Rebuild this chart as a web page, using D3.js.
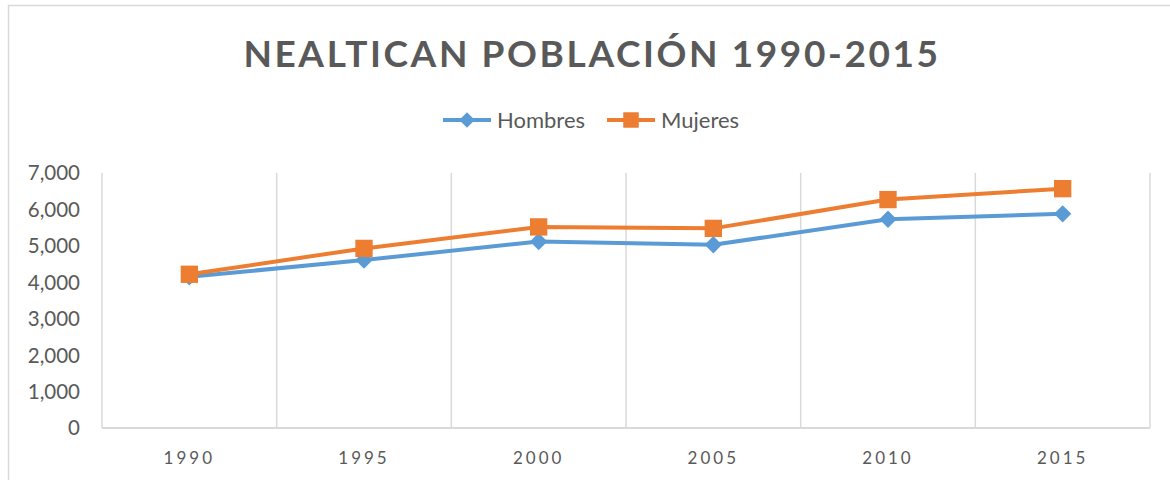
<!DOCTYPE html>
<html>
<head>
<meta charset="utf-8">
<script src="https://cdn.jsdelivr.net/npm/d3@7"></script>
<style>
    body { margin: 0; background: #fff; }
    svg { display: block; font-family: Lato, "Open Sans", sans-serif; }
</style>
</head>
<body>
<div id="chart"></div>
<script>
const years = ["1990", "1995", "2000", "2005", "2010", "2015"];
const hombres = [4150, 4610, 5120, 5030, 5730, 5880];
const mujeres = [4220, 4930, 5520, 5480, 6270, 6570];
const yTicks = [0, 1000, 2000, 3000, 4000, 5000, 6000, 7000];

// diamond = square turned 45deg, like the spreadsheet marker
const seriesList = [
    { name: "Hombres", values: hombres, color: "#5B9BD5", shape: d3.symbolSquare, size: 150, rotate: 45 },
    { name: "Mujeres", values: mujeres, color: "#ED7D31", shape: d3.symbolSquare, size: 300, rotate: 0 }
];

function renderChart() {
    const width = 1170, height = 480;
    const margin = { left: 102, right: 20, top: 173, bottom: 52 };

    const svg = d3.select("#chart")
        .append("svg")
        .attr("width", width)
        .attr("height", height);

    // chart frame
    svg.append("rect")
        .attr("x", 8.5).attr("y", 5.5)
        .attr("width", width + 20).attr("height", height + 20)
        .attr("fill", "none")
        .attr("stroke", "#d9d9d9")
        .attr("stroke-width", 1.5);

    const x = d3.scaleBand()
        .domain(years)
        .range([margin.left, width - margin.right]);

    const y = d3.scaleLinear()
        .domain([0, 7000])
        .range([height - margin.bottom, margin.top]);

    // vertical gridlines at category boundaries
    const bounds = years.map(d => x(d)).concat([x.range()[1]]);
    svg.append("g")
        .selectAll("line")
        .data(bounds)
        .enter().append("line")
        .attr("x1", d => d).attr("x2", d => d)
        .attr("y1", y(7000)).attr("y2", y(0))
        .attr("stroke", "#d9d9d9")
        .attr("stroke-width", 1.5);

    // x axis baseline
    svg.append("line")
        .attr("x1", x.range()[0]).attr("x2", x.range()[1])
        .attr("y1", y(0)).attr("y2", y(0))
        .attr("stroke", "#d9d9d9")
        .attr("stroke-width", 2);

    // y tick labels
    svg.append("g")
        .selectAll("text")
        .data(yTicks)
        .enter().append("text")
        .attr("x", 80)
        .attr("y", d => y(d))
        .attr("dy", "0.36em")
        .attr("text-anchor", "end")
        .attr("fill", "#595959")
        .style("font-size", "20.5px")
        .text(d => d3.format(",")(d));

    // x tick labels
    svg.append("g")
        .selectAll("text")
        .data(years)
        .enter().append("text")
        .attr("x", d => x(d) + x.bandwidth() / 2)
        .attr("y", 464)
        .attr("text-anchor", "middle")
        .attr("fill", "#595959")
        .style("font-size", "17px")
        .style("letter-spacing", "3px")
        .text(d => d);

    const line = d3.line()
        .x((d, i) => x(years[i]) + x.bandwidth() / 2)
        .y(d => y(d));

    seriesList.forEach(s => {
        svg.append("path")
            .datum(s.values)
            .attr("d", line)
            .attr("fill", "none")
            .attr("stroke", s.color)
            .attr("stroke-width", 4)
            .attr("stroke-linejoin", "round");

        svg.append("g")
            .selectAll("path")
            .data(s.values)
            .enter().append("path")
            .attr("d", d3.symbol().type(s.shape).size(s.size))
            .attr("transform", (d, i) => `translate(${x(years[i]) + x.bandwidth() / 2},${y(d)}) rotate(${s.rotate})`)
            .attr("fill", s.color);
    });

    // title
    svg.append("text")
        .attr("x", 592)
        .attr("y", 67)
        .attr("text-anchor", "middle")
        .attr("fill", "#595959")
        .style("font-size", "37px")
        .style("font-weight", "bold")
        .style("letter-spacing", "2.6px")
        .text("NEALTICAN POBLACIÓN 1990-2015");

    // legend
    const legendX = [443, 607];
    seriesList.forEach((s, i) => {
        const g = svg.append("g")
            .attr("transform", `translate(${legendX[i]},120)`);
        g.append("line")
            .attr("x1", 0).attr("x2", 48)
            .attr("stroke", s.color)
            .attr("stroke-width", 4);
        g.append("path")
            .attr("d", d3.symbol().type(s.shape).size(s.size * 0.8))
            .attr("transform", `translate(24,0) rotate(${s.rotate})`)
            .attr("fill", s.color);
        g.append("text")
            .attr("x", 54)
            .attr("dy", "0.36em")
            .attr("fill", "#595959")
            .style("font-size", "22px")
            .text(s.name);
    });
}

renderChart();
</script>
</body>
</html>
